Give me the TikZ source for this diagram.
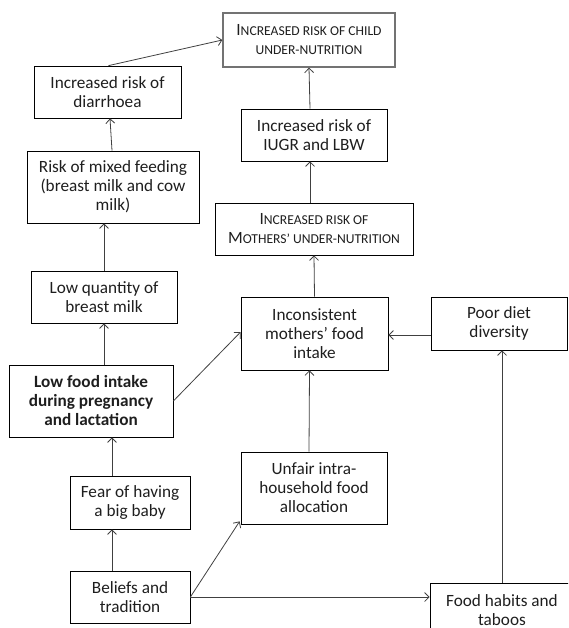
\documentclass[tikz,border=0pt]{standalone}
\usepackage{fontspec}
\setmainfont{Carlito}
\usetikzlibrary{arrows.meta,calc}
\newcommand\smc{\fontsize{13.6}{19}\selectfont}
\definecolor{linegray}{HTML}{404040}
\definecolor{txt}{HTML}{1E1E1E}
\begin{document}
\begin{tikzpicture}[x=1pt,y=-1pt,
  box/.style={draw=black,line width=0.75pt,rectangle,align=center,inner sep=0pt,
    text=txt,font=\fontsize{17.2}{19}\selectfont},
  topbox/.style={box,draw=black!55,line width=1.3pt},
  arr/.style={draw=linegray,line width=0.8pt,-{Straight Barb[length=4.5pt,width=9pt]}}]
\useasboundingbox (0,0) rectangle (568,628);
\clip (0,0) rectangle (568,628);

% left column
\node[topbox,minimum width=172pt,minimum height=54pt] (child) at (309,40)
  {I{\smc NCREASED RISK OF CHILD}\\{\smc UNDER-NUTRITION}};
\node[box,minimum width=147pt,minimum height=52pt] (diar) at (107.5,92)
  {Increased risk of\\diarrhoea};
\node[box,minimum width=172pt,minimum height=72pt] (mixed) at (113,187)
  {Risk of mixed feeding\\(breast milk and cow\\milk)};
\node[box,minimum width=146pt,minimum height=52pt] (lowq) at (104,297)
  {Low quantity of\\breast milk};
\node[box,minimum width=164pt,minimum height=72pt,font=\fontsize{17.2}{19}\selectfont\bfseries] (lowfood) at (91,401)
  {Low food intake\\during pregnancy\\and lactation};
\node[box,minimum width=120pt,minimum height=53pt] (fear) at (130,502.5)
  {Fear of having\\a big baby};
\node[box,minimum width=120pt,minimum height=52pt] (beliefs) at (130,597)
  {Beliefs and\\tradition};

% middle column
\node[box,minimum width=146pt,minimum height=52pt] (iugr) at (314,135)
  {Increased risk of\\IUGR and LBW};
\node[box,minimum width=198pt,minimum height=52pt] (mothers) at (314,229)
  {I{\smc NCREASED RISK OF}\\M{\smc OTHERS’ UNDER-NUTRITION}};
\node[box,minimum width=147pt,minimum height=73pt] (incons) at (314.5,333.5)
  {Inconsistent\\mothers’ food\\intake};
\node[box,minimum width=146pt,minimum height=72pt] (unfair) at (314,488)
  {Unfair intra-\\household food\\allocation};

% right column (bottom box runs off the lower edge)
\node[box,minimum width=136pt,minimum height=53pt] (poor) at (499,323.5)
  {Poor diet\\diversity};
\node[box,minimum width=144pt,minimum height=54pt] (food) at (502,610)
  {Food habits and\\taboos};

% connectors
\draw[arr] ([xshift=1pt]diar.north) -- (child.west);
\draw[arr] ([xshift=-1pt]mixed.north) -- ([xshift=2.5pt]diar.south);
\draw[arr] (lowq.north) -- (lowq.north |- mixed.south);
\draw[arr] (lowq.south |- lowfood.north) -- (lowq.south);
\draw[arr] ([xshift=-18pt]fear.north) -- ([xshift=-18pt]fear.north |- lowfood.south);
\draw[arr] ([xshift=-18pt]beliefs.north) -- ([xshift=-18pt]fear.south);
\draw[arr] (beliefs.east) -- ([shift={(-1pt,3pt)}]unfair.south west);
\draw[arr] (beliefs.east) -- (beliefs.east -| food.west);
\draw[arr] (food.north) -- (food.north |- poor.south);
\draw[arr] (lowfood.east) -- ([yshift=1.5pt]incons.west);
\draw[arr] ([yshift=-1.5pt]incons.east -| poor.west) -- ([yshift=-1.5pt]incons.east);
\draw[arr] ([xshift=-5pt]unfair.north) -- ([xshift=-5pt]incons.south);
\draw[arr] (incons.north) -- (mothers.south);
\draw[arr] ([xshift=-4pt]mothers.north) -- ([xshift=-4pt]iugr.south);
\draw[arr] ([xshift=-4pt]iugr.north) -- ([xshift=0pt]child.south);
\end{tikzpicture}
\end{document}
